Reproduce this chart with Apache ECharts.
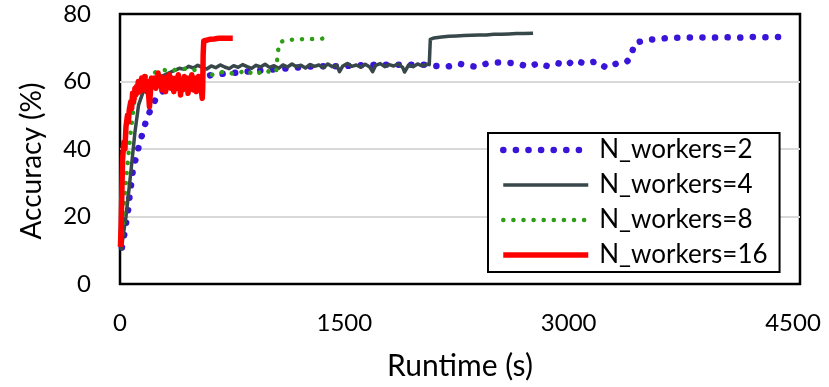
<!DOCTYPE html>
<html>
<head>
<meta charset="utf-8">
<script src="https://cdn.jsdelivr.net/npm/echarts@6/dist/echarts.min.js"></script>
<style>
    html, body { margin: 0; padding: 0; background: #fff; }
    #chart { width: 829px; height: 387px; }
</style>
</head>
<body>
<div id="chart"></div>
<script>
// N_workers=2
var w2Time = [13, 29, 42, 56, 64, 76, 87, 107, 131, 154, 178, 218, 252, 300, 360, 430, 520, 620, 740, 870, 1000, 1150, 1300, 1450, 1600, 1750, 1900, 2050, 2115, 2190, 2264, 2330, 2390, 2450, 2520, 2590, 2660, 2733, 2800, 2862, 2930, 2980, 3041, 3110, 3186, 3253, 3324, 3389, 3420, 3438, 3516, 3600, 3692, 3780, 3870, 3960, 4050, 4140, 4230, 4320, 4400, 4468];
var w2Acc = [10.8, 14.7, 18.5, 22.3, 26, 30, 34, 37.4, 41.7, 45.1, 48.9, 53, 56, 57.5, 59, 60, 61, 62, 62.5, 63, 63.5, 64, 64.5, 64.5, 64.8, 65, 65, 65, 64.6, 64.4, 65.3, 64.7, 64.3, 65.3, 65.6, 65.6, 65.3, 64.3, 65.5, 64.5, 65.4, 64.7, 66.4, 65.2, 66, 64, 65.4, 65.8, 67.6, 71.3, 72.3, 72.6, 73, 73, 73.1, 73, 73.1, 73, 73.2, 73.1, 73.2, 73.2];

// N_workers=4
var w4Time = [10, 17, 40, 60, 74, 100, 124, 151, 180, 220, 260, 300, 350, 397, 430, 460, 490, 520, 550, 580, 610, 640, 670, 700, 730, 760, 790, 820, 850, 880, 910, 940, 970, 1000, 1030, 1060, 1090, 1120, 1150, 1180, 1210, 1240, 1270, 1300, 1330, 1360, 1390, 1420, 1450, 1468, 1490, 1520, 1550, 1580, 1610, 1640, 1670, 1689, 1710, 1740, 1770, 1800, 1830, 1860, 1890, 1903, 1914, 1930, 1960, 1990, 2020, 2050, 2068, 2075, 2100, 2150, 2200, 2250, 2300, 2350, 2400, 2450, 2500, 2550, 2600, 2650, 2700, 2762];
var w4Acc = [10, 13, 20, 28, 33.8, 45, 53, 56.5, 58.5, 60, 61, 62, 63, 63.9, 63.6, 64.5, 64.0, 64.8, 64.2, 63.7, 64.6, 64.1, 64.9, 64.3, 63.8, 64.7, 64.2, 65.0, 64.4, 63.9, 64.8, 64.3, 65.1, 64.2, 64.7, 63.9, 64.9, 64.3, 65.2, 64.4, 64.8, 64.0, 65.0, 64.5, 64.9, 64.1, 65.2, 64.4, 64.8, 62.9, 64.6, 65.3, 64.5, 64.9, 64.2, 65.1, 64.3, 62.9, 64.8, 65.3, 64.4, 65.0, 64.6, 65.2, 64.2, 62.8, 62.7, 64.9, 64.4, 65.2, 64.6, 65.1, 65.0, 72.5, 72.9, 73.2, 73.4, 73.5, 73.6, 73.7, 73.8, 73.8, 74.0, 74.0, 74.1, 74.2, 74.2, 74.3];

// N_workers=8
var w8Time = [8, 25, 45, 69, 90, 107, 140, 170, 200, 250, 296, 330, 380, 430, 480, 531, 560, 598, 642, 700, 765, 800, 843, 899, 940, 977, 1010, 1044, 1055, 1065, 1100, 1150, 1200, 1250, 1300, 1350, 1386];
var w8Acc = [12, 22, 33, 44, 52, 58, 60.5, 61.5, 62, 63, 63.4, 63.1, 63.5, 63.8, 63.2, 63.9, 62.8, 61.9, 62.2, 63, 62.2, 62.6, 63.4, 61.9, 62.8, 63.4, 62.5, 62.9, 68.5, 71.3, 72.3, 72.4, 72.5, 72.6, 72.6, 72.7, 72.8];

// N_workers=16
var w16Time = [3, 8, 12, 17, 25, 33, 40, 50, 56, 62, 72, 78, 84, 90, 95, 100, 105, 110, 115, 122, 130, 135, 140, 145, 150, 155, 160, 165, 170, 175, 180, 185, 190, 197, 205, 210, 215, 220, 225, 230, 235, 240, 245, 250, 255, 260, 265, 270, 275, 280, 285, 290, 295, 300, 305, 310, 315, 320, 325, 330, 335, 340, 345, 350, 355, 360, 365, 370, 375, 380, 385, 390, 395, 400, 405, 410, 415, 420, 425, 430, 435, 440, 445, 450, 455, 460, 465, 470, 475, 480, 485, 490, 495, 500, 505, 510, 515, 520, 525, 532, 540, 545, 550, 553, 556, 560, 570, 600, 630, 660, 700, 730, 754];
var w16Acc = [11, 18, 26, 36.7, 42, 40, 46.6, 50, 48, 51.6, 54, 52, 56.5, 54, 55, 58, 56, 58.5, 56.5, 60, 59.5, 57, 57.5, 61, 60.5, 58, 58, 61.5, 61, 58, 57, 60, 59.5, 52.5, 58, 61, 61.5, 59, 58.5, 61, 60.5, 58, 57.5, 60, 62.5, 59, 59, 61.5, 61, 57.5, 58, 61, 60.5, 58, 57, 60, 61.5, 58.5, 59, 62, 61, 58, 58.5, 61, 60.5, 57, 56.5, 60, 61, 58, 59.5, 62, 61.5, 58.5, 56, 59, 60, 57.5, 58.5, 61.5, 61, 58, 59, 61, 56.5, 59, 61, 58.5, 59.5, 62, 61.5, 57.5, 58, 61, 60.5, 57, 57.5, 60, 61.5, 58, 61, 57, 55, 58, 68, 72, 72.5, 72.5, 72.6, 72.8, 72.8, 72.8, 72.8];

// axis ticks
var xTicks = [0, 1500, 3000, 4500];
var yTicks = [0, 20, 40, 60, 80];

function pairs(t, a) {
    return t.map(function (v, i) { return [v, a[i]]; });
}

var chart = echarts.init(document.getElementById("chart"));
var font = "Lato";

var option = {
    animation: false,
    textStyle: { fontFamily: font },
    grid: {
        left: 120,
        right: 29,
        top: 14,
        bottom: 103,
        show: true,
        borderColor: "#000",
        borderWidth: 2.5,
        backgroundColor: "#fff",
    },
    legend: {
        orient: "vertical",
        left: 488,
        top: 133,
        padding: [2, 12, 2, 12],
        itemGap: 5,
        itemWidth: 85,
        itemHeight: 14,
        borderColor: "#000",
        borderWidth: 2,
        backgroundColor: "#fff",
        // hide the marker, keep only the line
        itemStyle: { color: "rgba(0,0,0,0)", borderWidth: 0, opacity: 0 },
        textStyle: {
            fontFamily: font,
            fontSize: 26,
            lineHeight: 30,
            color: "#000",
            padding: [0, 0, 0, 6],
        },
        data: [
            { name: "N_workers=2", lineStyle: { width: 6.5 } },
            { name: "N_workers=4", lineStyle: { width: 3.5 } },
            { name: "N_workers=8", lineStyle: { width: 4.5 } },
            { name: "N_workers=16", lineStyle: { width: 5.5 } },
        ],
    },
    xAxis: {
        type: "value",
        min: xTicks[0],
        max: 4547,
        interval: 1500,
        name: "Runtime (s)",
        nameLocation: "middle",
        nameGap: 67,
        nameTextStyle: { fontFamily: font, fontSize: 30, color: "#000" },
        axisLine: { show: false },
        axisTick: { show: false },
        splitLine: { show: false },
        axisLabel: {
            fontFamily: font,
            fontSize: 24,
            color: "#000",
            margin: 27,
            formatter: function (v) {
                return xTicks.indexOf(v) >= 0 ? String(v) : "";
            },
        },
    },
    yAxis: {
        type: "value",
        min: yTicks[0],
        max: yTicks[yTicks.length - 1],
        interval: 20,
        name: "Accuracy (%)",
        nameLocation: "middle",
        nameGap: 74,
        nameTextStyle: { fontFamily: font, fontSize: 28, color: "#000", padding: [0, 24, 0, 0] },
        axisLine: { show: false },
        axisTick: { show: false },
        axisLabel: { fontFamily: font, fontSize: 24, color: "#000", margin: 29 },
        splitLine: {
            show: true,
            showMinLine: false,
            showMaxLine: false,
            lineStyle: { color: "#d9d9d9", width: 2 },
        },
    },
    series: [
        {
            name: "N_workers=2",
            type: "line",
            symbol: "none",
            z: 2,
            lineStyle: { color: "#3a14d8", width: 6.5, type: [0.1, 12.5], cap: "round" },
            itemStyle: { color: "#3a14d8" },
            data: pairs(w2Time, w2Acc),
        },
        {
            name: "N_workers=4",
            type: "line",
            symbol: "none",
            z: 3,
            lineStyle: { color: "#37474a", width: 3.5, join: "round" },
            itemStyle: { color: "#37474a" },
            data: pairs(w4Time, w4Acc),
        },
        {
            name: "N_workers=8",
            type: "line",
            symbol: "none",
            z: 4,
            lineStyle: { color: "#2e9e16", width: 4.5, type: [0.1, 10], cap: "round" },
            itemStyle: { color: "#2e9e16" },
            data: pairs(w8Time, w8Acc),
        },
        {
            name: "N_workers=16",
            type: "line",
            symbol: "none",
            z: 5,
            lineStyle: { color: "#ff0000", width: 5.5, join: "round" },
            itemStyle: { color: "#ff0000" },
            data: pairs(w16Time, w16Acc),
        },
    ],
};

chart.setOption(option);
</script>
</body>
</html>
